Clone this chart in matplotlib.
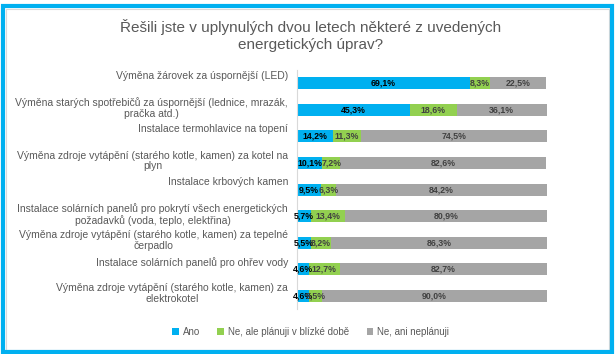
import matplotlib
matplotlib.use('Agg')
import matplotlib.pyplot as plt
import matplotlib.transforms as mtransforms
from matplotlib.patches import Rectangle

plt.rcParams['font.family'] = ['Liberation Sans', 'DejaVu Sans']

title = 'Řešili jste v uplynulých dvou letech některé z uvedených\nenergetických úprav?'

categories = [
    'Výměna žárovek za úspornější (LED)',
    'Výměna starých spotřebičů za úspornější (lednice, mrazák,\npračka atd.)',
    'Instalace termohlavice na topení',
    'Výměna zdroje vytápění (starého kotle, kamen) za kotel na\nplyn',
    'Instalace krbových kamen',
    'Instalace solárních panelů pro pokrytí všech energetických\npožadavků (voda, teplo, elektřina)',
    'Výměna zdroje vytápění (starého kotle, kamen) za tepelné\nčerpadlo',
    'Instalace solárních panelů pro ohřev vody',
    'Výměna zdroje vytápění (starého kotle, kamen) za\nelektrokotel',
]

ano = [69.1, 45.3, 14.2, 10.1, 9.5, 5.7, 5.5, 4.6, 4.6]
planuji = [8.3, 18.6, 11.3, 7.2, 6.3, 13.4, 8.2, 12.7, 5.5]
neplanuji = [22.5, 36.1, 74.5, 82.6, 84.2, 80.9, 86.3, 82.7, 90.0]

series_names = ['Ano', 'Ne, ale plánuji v blízké době', 'Ne, ani neplánuji']
colors = ['#00B0F0', '#92D050', '#A5A5A5']
text_colors = ['#000000', '#404040', '#404040']

fig = plt.figure(figsize=(6.15, 3.54), dpi=100)
ax = fig.add_axes([0.483, 0.127, 0.406, 0.675])

y = list(range(len(categories)))
left = [0.0] * len(categories)
for vals, name, col, tcol in zip([ano, planuji, neplanuji], series_names, colors, text_colors):
    ax.barh(y, vals, left=left, height=0.45, color=col, label=name)
    for i, v in enumerate(vals):
        ax.text(left[i] + v / 2, i, f'{v:.1f}'.replace('.', ',') + '%',
                ha='center', va='center', fontsize=6.3, fontweight='bold', color=tcol)
    left = [a + b for a, b in zip(left, vals)]

ax.set_xlim(0, 100)
ax.set_ylim(len(categories) - 0.5, -0.5)
ax.set_xticks([])
ax.set_yticks([])
for s in ['top', 'right', 'bottom']:
    ax.spines[s].set_visible(False)
ax.spines['left'].set_color('#d9d9d9')

# category labels: top aligned a bit above each bar, like the original
trans = mtransforms.blended_transform_factory(ax.transAxes, ax.transData)
trans = trans + mtransforms.ScaledTranslation(-9 / 100, 12.5 / 100, fig.dpi_scale_trans)
for i, lab in enumerate(categories):
    ax.text(0, i, lab, transform=trans, ha='right', va='top', multialignment='center',
            fontsize=7.5, color='#595959', linespacing=1.05)

fig.text(0.505, 0.9, title, ha='center', va='center', fontsize=11,
         color='#595959', linespacing=1.2)

fig.legend(loc='center', bbox_to_anchor=(0.505, 0.062), ncol=3, frameon=False,
           fontsize=7, labelcolor='#595959', handlelength=0.7, handleheight=0.7,
           handletextpad=0.4, columnspacing=1.8)

# frame around the chart
fig.patches.append(Rectangle((5.5 / 615, 4.5 / 354), 603 / 615, 341 / 354,
                             transform=fig.transFigure, fill=False,
                             edgecolor='#d9d9d9', lw=0.8))
fig.patches.append(Rectangle((3 / 615, 2 / 354), 609 / 615, 346.5 / 354,
                             transform=fig.transFigure, fill=False,
                             edgecolor='#00B0F0', lw=3))

fig.savefig('out.png', dpi=100)
